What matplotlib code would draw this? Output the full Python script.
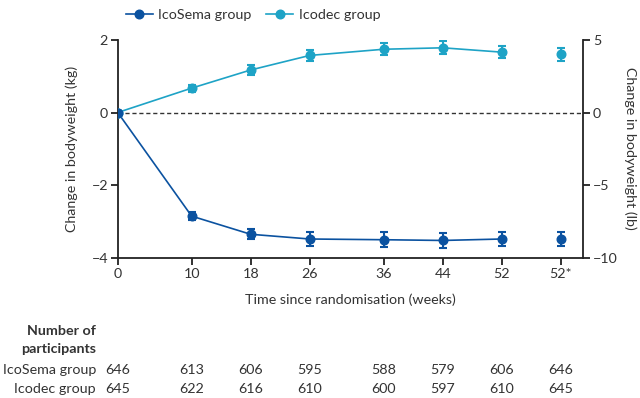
import matplotlib
matplotlib.use('Agg')
import matplotlib.pyplot as plt
import matplotlib.transforms as mtransforms
from matplotlib import font_manager

# ── Data ─────────────────────────────────────────────────────────
x_pos     = [0, 10, 18, 26, 36, 44, 52, 60]
x_labels  = ['0', '10', '18', '26', '36', '44', '52', '52*']

icosema_mean = [0.0, -2.85, -3.35, -3.48, -3.50, -3.52, -3.48, -3.48]
icosema_err  = [0.04, 0.11, 0.14, 0.18, 0.20, 0.20, 0.20, 0.19]
icodec_mean  = [0.0, 0.67, 1.17, 1.57, 1.74, 1.78, 1.66, 1.60]
icodec_err   = [0.03, 0.10, 0.13, 0.16, 0.17, 0.18, 0.17, 0.17]

n_icosema = ['646', '613', '606', '595', '588', '579', '606', '646']
n_icodec  = ['645', '622', '616', '610', '600', '597', '610', '645']

# ── Styling ──────────────────────────────────────────────────────
names = {f.name for f in font_manager.fontManager.ttflist}
FONT = 'Lato' if 'Lato' in names else 'DejaVu Sans'
plt.rcParams['font.family'] = [FONT, 'DejaVu Sans']
FS = 10.3

COL_SEMA  = '#0b52a0'
COL_DEC   = '#1ea3c6'
COL_AXIS  = '#222222'
COL_TEXT  = '#333333'

fig = plt.figure(figsize=(6.4, 3.98), dpi=100)
ax = fig.add_axes([0.184, 0.352, 0.727, 0.548])
ax2 = ax.twinx()

ax.axhline(0, color='#333', lw=1.0, ls=(0, (3, 2)), zorder=1)

# connected lines (first 7 points), last point (52*) free-standing
ax.plot(x_pos[:7], icodec_mean[:7], color=COL_DEC, lw=1.2, zorder=2)
ax.plot(x_pos[:7], icosema_mean[:7], color=COL_SEMA, lw=1.2, zorder=3)
ax.errorbar(x_pos, icodec_mean, yerr=icodec_err, fmt='o', color=COL_DEC,
            ms=6.2, elinewidth=1.5, capsize=3, capthick=1.5, zorder=4)
ax.errorbar(x_pos, icosema_mean, yerr=icosema_err, fmt='o', color=COL_SEMA,
            ms=6.2, elinewidth=1.5, capsize=3, capthick=1.5, zorder=5)

ax.set_xlim(0, 63)
ax.set_ylim(-4, 2)
ax.set_yticks([-4, -2, 0, 2])
ax.set_yticklabels(['\u22124', '\u22122', '0', '2'])
ax.set_xticks(x_pos)
ax.set_xticklabels(x_labels)
ax2.set_ylim(-10, 5)
ax2.set_yticks([-10, -5, 0, 5])
ax2.set_yticklabels(['\u221210', '\u22125', '0', '5'])

for a in (ax, ax2):
    a.spines['top'].set_visible(False)
    for s in ('left', 'right', 'bottom'):
        a.spines[s].set_color(COL_AXIS)
        a.spines[s].set_linewidth(1.3)
    a.tick_params(direction='out', length=5, width=1.3, color=COL_AXIS,
                  labelsize=FS, labelcolor=COL_TEXT, pad=2)
ax.spines['right'].set_visible(False)
ax2.spines['left'].set_visible(False)
ax2.spines['bottom'].set_visible(False)

ax.set_ylabel('Change in bodyweight (kg)', fontsize=FS, color=COL_TEXT, labelpad=10)
ax2.set_ylabel('Change in bodyweight (lb)', fontsize=FS, color=COL_TEXT,
               rotation=270, labelpad=14)
ax.set_xlabel('Time since randomisation (weeks)', fontsize=FS, color=COL_TEXT, labelpad=10)

# legend
h1, = ax.plot([], [], color=COL_SEMA, marker='o', ms=6.2, lw=1.2)
h2, = ax.plot([], [], color=COL_DEC, marker='o', ms=6.2, lw=1.2)
fig.legend([h1, h2], ['IcoSema group', 'Icodec group'], loc='center left',
           bbox_to_anchor=(0.176, 0.963), ncol=2, frameon=False, fontsize=FS,
           handlelength=1.9, handletextpad=0.4, columnspacing=1.0,
           labelcolor=COL_TEXT)

# number-at-risk table
trans = mtransforms.blended_transform_factory(ax.transData, fig.transFigure)
fig.text(0.150, 1 - 331 / 398, 'Number of', ha='right', va='center',
         fontsize=FS, fontweight='bold', color=COL_TEXT)
fig.text(0.150, 1 - 349 / 398, 'participants', ha='right', va='center',
         fontsize=FS, fontweight='bold', color=COL_TEXT)
fig.text(0.150, 1 - 370 / 398, 'IcoSema group', ha='right', va='center',
         fontsize=FS, color=COL_TEXT)
fig.text(0.150, 1 - 389 / 398, 'Icodec group', ha='right', va='center',
         fontsize=FS, color=COL_TEXT)
for xp, a_n, b_n in zip(x_pos, n_icosema, n_icodec):
    fig.text(xp, 1 - 370 / 398, a_n, transform=trans, ha='center', va='center',
             fontsize=FS, color=COL_TEXT)
    fig.text(xp, 1 - 389 / 398, b_n, transform=trans, ha='center', va='center',
             fontsize=FS, color=COL_TEXT)

fig.savefig('out.png', dpi=100, facecolor='white')
